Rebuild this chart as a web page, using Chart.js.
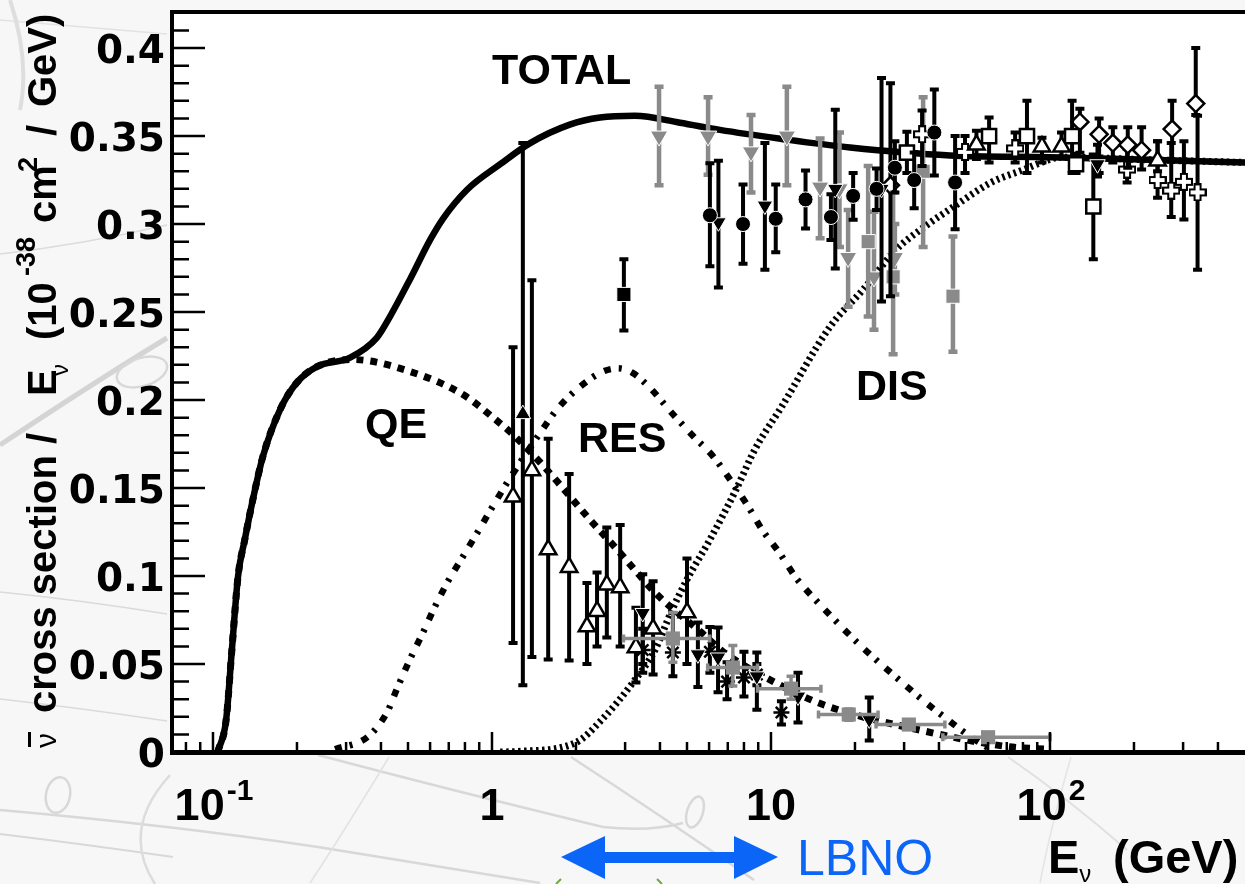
<!DOCTYPE html>
<html>
<head>
<meta charset="utf-8">
<title>Antineutrino cross section</title>
<script src="https://cdn.jsdelivr.net/npm/chart.js@4/dist/chart.umd.min.js"></script>
<style>
    html, body { margin: 0; padding: 0; background: #f7f7f8; overflow: hidden; }
    canvas { display: block; }
</style>
</head>
<body>
<canvas id="grafico" width="1245" height="884"></canvas>
<script>
// theory curves, E in GeV, cross section / E in 10^-38 cm2 / GeV
let totalE = [0.104,0.1114,0.117,0.123,0.130,0.139,0.151,0.174,0.200,0.236,0.310,0.387,0.431,0.508,0.600,0.667,0.814,1.07,1.37,1.90,2.44,3.25,4.72,6.56,10.8,19.2,43.8,100,228,500];
let totalY = [0,0.018,0.059,0.100,0.1207,0.1435,0.168,0.1946,0.210,0.219,0.2241,0.2355,0.2474,0.2685,0.291,0.303,0.3195,0.334,0.346,0.3565,0.3605,0.3615,0.3576,0.3535,0.3485,0.3435,0.339,0.338,0.3365,0.335];
let qeE = [0.104,0.1114,0.117,0.123,0.130,0.139,0.151,0.174,0.200,0.236,0.3175,0.508,0.787,1.05,1.16,1.49,1.75,2.21,2.81,3.31,3.87,5.57,6.73,10.2,15.7,35.9,69.5,100];
let qeY = [0,0.018,0.059,0.100,0.1207,0.1435,0.168,0.1946,0.210,0.219,0.223,0.2162,0.2031,0.1878,0.182,0.1645,0.152,0.1332,0.115,0.102,0.09,0.0685,0.057,0.04,0.0264,0.0117,0.0032,0.0015];
let resE = [0.274,0.36,0.42,0.46,0.508,0.566,0.625,0.695,0.787,0.891,1.01,1.14,1.49,1.72,2.05,2.50,2.83,3.18,3.68,4.45,5.30,6.20,7.19,8.20,9.29,10.7,12.3,14.4,17.0,20.2,24.2,29.0,34.8,42.0,51.7,63.5];
let resY = [0.0015,0.0088,0.0224,0.0372,0.0526,0.0679,0.0827,0.0969,0.1111,0.1253,0.14,0.1537,0.1815,0.1952,0.2071,0.2162,0.218,0.2156,0.207,0.192,0.179,0.168,0.154,0.1406,0.1264,0.1134,0.099,0.0866,0.0747,0.0628,0.0514,0.0406,0.0298,0.0196,0.0088,0];
let disE = [1.07,1.24,2.0,2.48,3.2,3.84,4.38,5.0,6.04,7.49,8.76,10.9,16.3,21.4,28.1,35.6,45.3,61.5,80.7,95,109,228,500];
let disY = [0,0.0003,0.0054,0.0185,0.0395,0.058,0.0793,0.098,0.1207,0.149,0.172,0.196,0.2418,0.2628,0.2855,0.2986,0.31,0.3236,0.331,0.3355,0.338,0.3365,0.335];

// measurements
let circleE = [6.04,7.94,10.4,13.3,16.4,19.7,23.9,27.8,32.6,38.5,45.7];
let circleY = [0.305,0.300,0.303,0.314,0.304,0.316,0.320,0.332,0.325,0.352,0.3236];
let circleLo = [0.276,0.2775,0.284,0.2975,0.291,0.3025,0.308,0.318,0.309,0.3276,0.297];
let circleHi = [0.3345,0.3225,0.3225,0.3305,0.317,0.329,0.3315,0.347,0.3406,0.3765,0.350];

let downE = [6.48,9.51,17.0,24.9,3.47,5.47,6.46,8.9,12.5,22.5,148];
let downY = [0.301,0.3105,0.320,0.320,0.079,0.0555,0.0537,0.043,0.0315,0.0185,0.334];
let downLo = [0.264,0.274,0.2747,0.256,0.05,0.037,0.034,0.024,0.0168,0.0065,0.327];
let downHi = [0.336,0.346,0.365,0.383,0.101,0.0736,0.0708,0.0565,0.045,0.031,0.345];

let grayDownE = [3.97,5.95,8.48,11.4,15.0,17.6,18.9,23.4,27.8];
let grayDownY = [0.350,0.350,0.341,0.350,0.321,0.320,0.281,0.270,0.281];
let grayDownLo = [0.322,0.328,0.318,0.322,0.292,0.287,0.253,0.240,0.26];
let grayDownHi = [0.378,0.372,0.362,0.378,0.3486,0.352,0.308,0.307,0.30];

let graySquareE = [22.3,27.4,35.1,44.9];
let graySquareY = [0.290,0.270,0.330,0.259];
let graySquareLo = [0.2475,0.226,0.287,0.2275];
let graySquareHi = [0.333,0.318,0.372,0.293];

let blackSquareE = [2.97];
let blackSquareY = [0.26];
let blackSquareLo = [0.2395];
let blackSquareHi = [0.28];

let upE = [1.29];
let upY = [0.192];
let upLo = [0.038];
let upHi = [0.346];

let openUpE = [1.19,1.39,1.59,1.89,2.19,2.38,2.58,2.88,3.28,3.78,5.0,54.5,93.6,110,243];
let openUpY = [0.145,0.160,0.115,0.105,0.0713,0.080,0.095,0.0935,0.0594,0.070,0.0793,0.345,0.344,0.344,0.336];
let openUpLo = [0.062,0.054,0.0525,0.052,0.05,0.06,0.065,0.06,0.0395,0.044,0.05,0.337,0.335,0.338,0.33];
let openUpHi = [0.23,0.268,0.178,0.158,0.096,0.102,0.1276,0.129,0.082,0.097,0.11,0.353,0.349,0.352,0.347];

let openSquareE = [30.7,60.5,82.7,120,143,124];
let openSquareY = [0.3406,0.350,0.350,0.350,0.310,0.334];
let openSquareLo = [0.329,0.335,0.329,0.329,0.28,0.329];
let openSquareHi = [0.3525,0.3605,0.370,0.370,0.3395,0.34];

let diamondE = [26.8,128,150,168,190,213,274,333];
let diamondY = [0.322,0.358,0.351,0.346,0.345,0.342,0.354,0.3685];
let diamondLo = [0.259,0.3405,0.329,0.335,0.332,0.331,0.336,0.362];
let diamondHi = [0.380,0.3655,0.36,0.355,0.355,0.355,0.370,0.400];

let plusE = [34.8,49.6,75,189,243,272,302,338];
let plusY = [0.351,0.341,0.343,0.331,0.325,0.319,0.324,0.318];
let plusLo = [0.333,0.329,0.335,0.3236,0.315,0.304,0.3026,0.274];
let plusHi = [0.3645,0.350,0.352,0.343,0.347,0.346,0.347,0.3616];

let starE = [3.47,4.45,6.04,6.96,8.0,8.9,10.9];
let starY = [0.058,0.0565,0.057,0.040,0.0424,0.044,0.0224];
let starLo = [0.045,0.043,0.045,0.03,0.0315,0.038,0.0156];
let starHi = [0.07,0.079,0.071,0.051,0.057,0.05,0.0288];

let binE = [4.45,7.3,11.8,19.0,31.2,60];
let binY = [0.0645,0.048,0.036,0.0213,0.0156,0.0084];
let binLo = [0.051,0.0375,0.03,0.018,0.013,0.007];
let binHi = [0.0793,0.0605,0.043,0.0245,0.018,0.0095];
let binLeft = [2.96,5.93,8.95,14.8,23.8,41.3];
let binRight = [6.03,8.95,15.1,24.2,42,100];

// axes
let xMin = 0.0713;
let xMax = 500;
let yMin = 0;
let yMax = 0.4205;
let yTicks = [0,0.05,0.1,0.15,0.2,0.25,0.3,0.35,0.4];
let yTickLabels = ["0","0.05","0.1","0.15","0.2","0.25","0.3","0.35","0.4"];
let xTickValues = [0.1,1,10,100];
let xTickLabels = ["10","1","10","10"];
let xTickPowers = ["-1","","","2"];

let black = "#000000";
let gray = "#8a8a8a";
let blue = "#0b66f8";
let bold = "Liberation Sans";

function linePoints(xs, ys) {
    let points = [];
    for (let i = 0; i < xs.length; i++) {
        points.push({x: xs[i], y: ys[i]});
    }
    return points;
}

function curve(label, xs, ys, width, dash) {
    return {
        label: label,
        data: linePoints(xs, ys),
        showLine: true,
        cubicInterpolationMode: "monotone",
        borderColor: black,
        borderWidth: width,
        borderDash: dash,
        pointRadius: 0,
        fill: false,
        order: 10
    };
}

function measure(label, xs, ys, los, his, style) {
    let points = [];
    for (let i = 0; i < xs.length; i++) {
        points.push({x: xs[i], y: ys[i], lo: los[i], hi: his[i]});
    }
    return Object.assign({
        label: label,
        data: points,
        showLine: false,
        barColor: black,
        pointBorderColor: black,
        pointBorderWidth: 2.5,
        pointBackgroundColor: "#ffffff",
        pointRadius: 8,
        order: 5
    }, style);
}

function plusMarker() {
    let c = document.createElement("canvas");
    c.width = 18;
    c.height = 18;
    let g = c.getContext("2d");
    g.beginPath();
    let pts = [[6,1],[12,1],[12,6],[17,6],[17,12],[12,12],[12,17],[6,17],[6,12],[1,12],[1,6],[6,6]];
    for (let p of pts) {
        g.lineTo(p[0], p[1]);
    }
    g.closePath();
    g.fillStyle = "#ffffff";
    g.fill();
    g.lineWidth = 2;
    g.strokeStyle = black;
    g.stroke();
    return c;
}

function drawBars(chart, dataset) {
    if (!dataset.data[0] || dataset.data[0].lo === undefined) {
        return;
    }
    let ctx = chart.ctx;
    let sx = chart.scales.x;
    let sy = chart.scales.y;
    ctx.save();
    ctx.strokeStyle = dataset.barColor;
    ctx.lineWidth = dataset.barWidth || 4;
    for (let p of dataset.data) {
        let px = sx.getPixelForValue(p.x);
        let py = sy.getPixelForValue(p.y);
        let top = sy.getPixelForValue(p.hi);
        let bottom = sy.getPixelForValue(p.lo);
        ctx.beginPath();
        ctx.moveTo(px, top);
        ctx.lineTo(px, bottom);
        ctx.moveTo(px - 4.5, top);
        ctx.lineTo(px + 4.5, top);
        ctx.moveTo(px - 4.5, bottom);
        ctx.lineTo(px + 4.5, bottom);
        if (p.left !== undefined) {
            let l = sx.getPixelForValue(p.left);
            let r = sx.getPixelForValue(p.right);
            ctx.moveTo(l, py);
            ctx.lineTo(r, py);
            ctx.moveTo(l, py - 4);
            ctx.lineTo(l, py + 4);
            ctx.moveTo(r, py - 4);
            ctx.lineTo(r, py + 4);
        }
        ctx.stroke();
    }
    ctx.restore();
}

function drawSketch(ctx) {
    // faded bubble chamber tracks behind the page
    let tracks = [
        [0,445,93,383,167,338,5,"#d4d4d4"],
        [0,254,80,245,167,225,1.5,"#dcdcdc"],
        [0,592,80,600,167,614,1.5,"#dadada"],
        [0,699,80,708,167,721,1.5,"#dadada"],
        [0,834,90,845,173,857,2,"#d8d8d8"],
        [0,20,60,25,167,34,1.5,"#e2e2e2"],
        [318,755,450,790,603,827,2.5,"#d8d8d8"],
        [603,827,650,832,683,823,2.5,"#d8d8d8"],
        [571,757,660,815,754,880,2.5,"#d8d8d8"],
        [1008,757,1070,800,1127,850,2,"#e0e0e0"],
        [0,810,170,825,318,847,2.5,"#d8d8d8"],
        [318,847,430,865,540,883,2.5,"#d8d8d8"],
        [389,757,345,830,310,883,1.5,"#e2e2e2"],
        [1071,757,1050,830,1040,883,1.5,"#e4e4e4"],
        [170,775,120,830,155,884,2.5,"#dcdcdc"],
        [10,0,30,60,20,110,4,"#dedede"]
    ];
    ctx.save();
    for (let t of tracks) {
        ctx.beginPath();
        ctx.moveTo(t[0], t[1]);
        ctx.quadraticCurveTo(t[2], t[3], t[4], t[5]);
        ctx.lineWidth = t[6];
        ctx.strokeStyle = t[7];
        ctx.stroke();
    }
    ctx.strokeStyle = "#d8d8d8";
    ctx.lineWidth = 2.5;
    ctx.beginPath();
    ctx.ellipse(142, 372, 26, 14, -0.3, 0, 7);
    ctx.stroke();
    ctx.beginPath();
    ctx.ellipse(58, 795, 12, 18, 0.2, 0, 7);
    ctx.stroke();
    ctx.beginPath();
    ctx.ellipse(695, 812, 8, 16, 0.3, 0, 7);
    ctx.stroke();
    ctx.restore();
}

function drawMinorTicks(chart) {
    let ctx = chart.ctx;
    let area = chart.chartArea;
    let sx = chart.scales.x;
    let sy = chart.scales.y;
    ctx.save();
    ctx.strokeStyle = black;
    ctx.lineWidth = 2.5;
    ctx.beginPath();
    for (let i = 1; i < 42; i++) {
        let v = i / 100;
        let py = sy.getPixelForValue(v);
        let long = i % 5 === 0;
        ctx.moveTo(area.left, py);
        ctx.lineTo(area.left + (long ? 33 : 17), py);
    }
    for (let d = 0.01; d < 1000; d *= 10) {
        for (let m = 1; m < 10; m++) {
            let v = d * m;
            if (v < xMin || v >= xMax) {
                continue;
            }
            let px = sx.getPixelForValue(v);
            ctx.moveTo(px, area.bottom);
            ctx.lineTo(px, area.bottom - (m === 1 ? 20 : 10));
        }
    }
    ctx.stroke();
    // top of the frame
    ctx.lineWidth = 4;
    ctx.beginPath();
    ctx.moveTo(area.left - 2, area.top);
    ctx.lineTo(area.right, area.top);
    ctx.stroke();
    ctx.restore();
}

function putText(ctx, text, x, y, font, color) {
    ctx.font = font;
    ctx.fillStyle = color || black;
    ctx.fillText(text, x, y);
    return ctx.measureText(text).width;
}

function drawXLabels(chart) {
    let ctx = chart.ctx;
    let sx = chart.scales.x;
    ctx.save();
    ctx.textAlign = "left";
    ctx.textBaseline = "alphabetic";
    for (let i = 0; i < xTickValues.length; i++) {
        let main = "bold 45px " + bold;
        let small = "bold 30px " + bold;
        ctx.font = main;
        let w = ctx.measureText(xTickLabels[i]).width;
        ctx.font = small;
        let wp = ctx.measureText(xTickPowers[i]).width;
        let px = sx.getPixelForValue(xTickValues[i]) - (w + wp) / 2;
        w = putText(ctx, xTickLabels[i], px, 820, main);
        if (xTickPowers[i] !== "") {
            putText(ctx, xTickPowers[i], px + w + 2, 800, small);
        }
    }
    ctx.restore();
}

function drawYTitle(ctx) {
    ctx.save();
    ctx.translate(56, 0);
    ctx.rotate(-Math.PI / 2);
    ctx.textAlign = "left";
    ctx.textBaseline = "alphabetic";
    let main = "bold 40px " + bold;
    let nu = "30px " + bold;
    let sup = "bold 27px " + bold;
    // rotated, so x runs upward from the bottom of the page
    putText(ctx, "ν", -748, 0, nu);
    ctx.fillRect(-747, -28, 15, 3);
    putText(ctx, "cross section /", -713, 0, main);
    putText(ctx, "E", -396, 0, main);
    putText(ctx, "ν", -376, 12, "24px " + bold);
    putText(ctx, "(10", -340, 0, main);
    putText(ctx, "-38", -276, -21, sup);
    putText(ctx, "cm", -223, 0, main);
    putText(ctx, "2", -172, -19, sup);
    putText(ctx, "/", -136, 0, main);
    putText(ctx, "GeV)", -107, 0, main);
    ctx.restore();
}

function drawNotes(ctx) {
    ctx.save();
    ctx.textAlign = "left";
    ctx.textBaseline = "alphabetic";
    let label = "bold 43px " + bold;
    putText(ctx, "TOTAL", 492, 84, label);
    putText(ctx, "QE", 365, 438, label);
    putText(ctx, "RES", 578, 452, label);
    putText(ctx, "DIS", 856, 400, label);

    // LBNO range arrow
    ctx.fillStyle = blue;
    ctx.beginPath();
    let arrow = [[561,857],[605,836],[605,852],[734,852],[734,836],[778,857],[734,879],[734,863],[605,863],[605,879]];
    for (let p of arrow) {
        ctx.lineTo(p[0], p[1]);
    }
    ctx.closePath();
    ctx.fill();
    putText(ctx, "LBNO", 797, 875, "50px " + bold, blue);

    let e = putText(ctx, "E", 1048, 873, "bold 47px " + bold);
    putText(ctx, "ν", 1048 + e, 882, "24px " + bold);
    putText(ctx, "(GeV)", 1113, 873, "bold 47px " + bold);

    ctx.strokeStyle = "#6fa83c";
    ctx.lineWidth = 2;
    ctx.beginPath();
    ctx.moveTo(556, 884);
    ctx.lineTo(561, 879);
    ctx.moveTo(657, 879);
    ctx.lineTo(662, 884);
    ctx.stroke();
    ctx.restore();
}

let pagePlugin = {
    id: "page",
    beforeDraw: function (chart) {
        let ctx = chart.ctx;
        let area = chart.chartArea;
        ctx.save();
        ctx.fillStyle = "#f7f7f8";
        ctx.fillRect(0, 0, chart.width, chart.height);
        drawSketch(ctx);
        ctx.fillStyle = "#ffffff";
        ctx.fillRect(area.left, area.top, area.right - area.left, area.bottom - area.top);
        ctx.restore();
    },
    beforeDatasetDraw: function (chart, args) {
        drawBars(chart, chart.data.datasets[args.index]);
    },
    afterDraw: function (chart) {
        drawMinorTicks(chart);
        drawXLabels(chart);
        drawYTitle(chart.ctx);
        drawNotes(chart.ctx);
    }
};

window.onload = function () {
    let halo = {pointBorderColor: "#ffffff", pointBorderWidth: 1};
    let bins = measure("bins", binE, binY, binLo, binHi, {pointStyle: "rect", pointRadius: 10, pointBackgroundColor: gray, pointBorderColor: gray, pointBorderWidth: 0, barColor: gray, barWidth: 3.5, order: 1});
    for (let i = 0; i < binE.length; i++) {
        bins.data[i].left = binLeft[i];
        bins.data[i].right = binRight[i];
    }
    let datasets = [
        bins,
        measure("circle", circleE, circleY, circleLo, circleHi, Object.assign({pointStyle: "circle", pointRadius: 7.5, pointBackgroundColor: black}, halo)),
        measure("down", downE, downY, downLo, downHi, Object.assign({pointStyle: "triangle", rotation: 180, pointRadius: 9, pointBackgroundColor: black}, halo)),
        measure("grayDown", grayDownE, grayDownY, grayDownLo, grayDownHi, Object.assign({pointStyle: "triangle", rotation: 180, pointRadius: 10, pointBackgroundColor: gray, barColor: gray, barWidth: 4.5, order: 7}, halo)),
        measure("graySquare", graySquareE, graySquareY, graySquareLo, graySquareHi, Object.assign({pointStyle: "rect", pointRadius: 10, pointBackgroundColor: gray, barColor: gray, barWidth: 4.5, order: 6}, halo)),
        measure("blackSquare", blackSquareE, blackSquareY, blackSquareLo, blackSquareHi, Object.assign({pointStyle: "rect", pointRadius: 10, pointBackgroundColor: black}, halo)),
        measure("up", upE, upY, upLo, upHi, Object.assign({pointStyle: "triangle", pointRadius: 9, pointBackgroundColor: black}, halo)),
        measure("openUp", openUpE, openUpY, openUpLo, openUpHi, {pointStyle: "triangle", pointRadius: 9.5}),
        measure("openSquare", openSquareE, openSquareY, openSquareLo, openSquareHi, {pointStyle: "rect", pointRadius: 10}),
        measure("diamond", diamondE, diamondY, diamondLo, diamondHi, {pointStyle: "rectRot", pointRadius: 8.5}),
        measure("plus", plusE, plusY, plusLo, plusHi, {pointStyle: plusMarker()}),
        measure("star", starE, starY, starLo, starHi, {pointStyle: "star", pointRadius: 8}),
        curve("TOTAL", totalE, totalY, 6.5, []),
        curve("QE", qeE, qeY, 7, [7, 7]),
        curve("RES", resE, resY, 6.5, [7, 8, 3, 10]),
        curve("DIS", disE, disY, 7, [2.5, 3.5])
    ];

    new Chart(document.getElementById("grafico").getContext("2d"), {
        type: "scatter",
        data: {datasets: datasets},
        plugins: [pagePlugin],
        options: {
            responsive: false,
            animation: false,
            layout: {autoPadding: false, padding: {left: 0, top: 12, right: 0, bottom: 0}},
            plugins: {legend: {display: false}, tooltip: {enabled: false}, title: {display: false}},
            scales: {
                x: {
                    type: "logarithmic",
                    min: xMin,
                    max: xMax,
                    grid: {display: false, drawTicks: false},
                    border: {display: true, color: black, width: 5},
                    ticks: {display: false},
                    afterFit: function (scale) {
                        scale.height = 132;
                        scale.paddingLeft = 0;
                        scale.paddingRight = 0;
                    }
                },
                y: {
                    min: yMin,
                    max: yMax,
                    grid: {display: false, drawTicks: false},
                    border: {display: true, color: black, width: 4},
                    afterBuildTicks: function (scale) {
                        scale.ticks = yTicks.map(function (v) { return {value: v}; });
                    },
                    ticks: {
                        autoSkip: false,
                        padding: 7,
                        labelOffset: 5,
                        color: black,
                        font: {family: "DejaVu Sans", weight: "bold", size: 39},
                        callback: function (value) {
                            return yTickLabels[yTicks.indexOf(value)];
                        }
                    },
                    afterFit: function (scale) {
                        scale.width = 172;
                        scale.paddingTop = 0;
                        scale.paddingBottom = 0;
                    }
                }
            }
        }
    });
};
</script>
</body>
</html>
